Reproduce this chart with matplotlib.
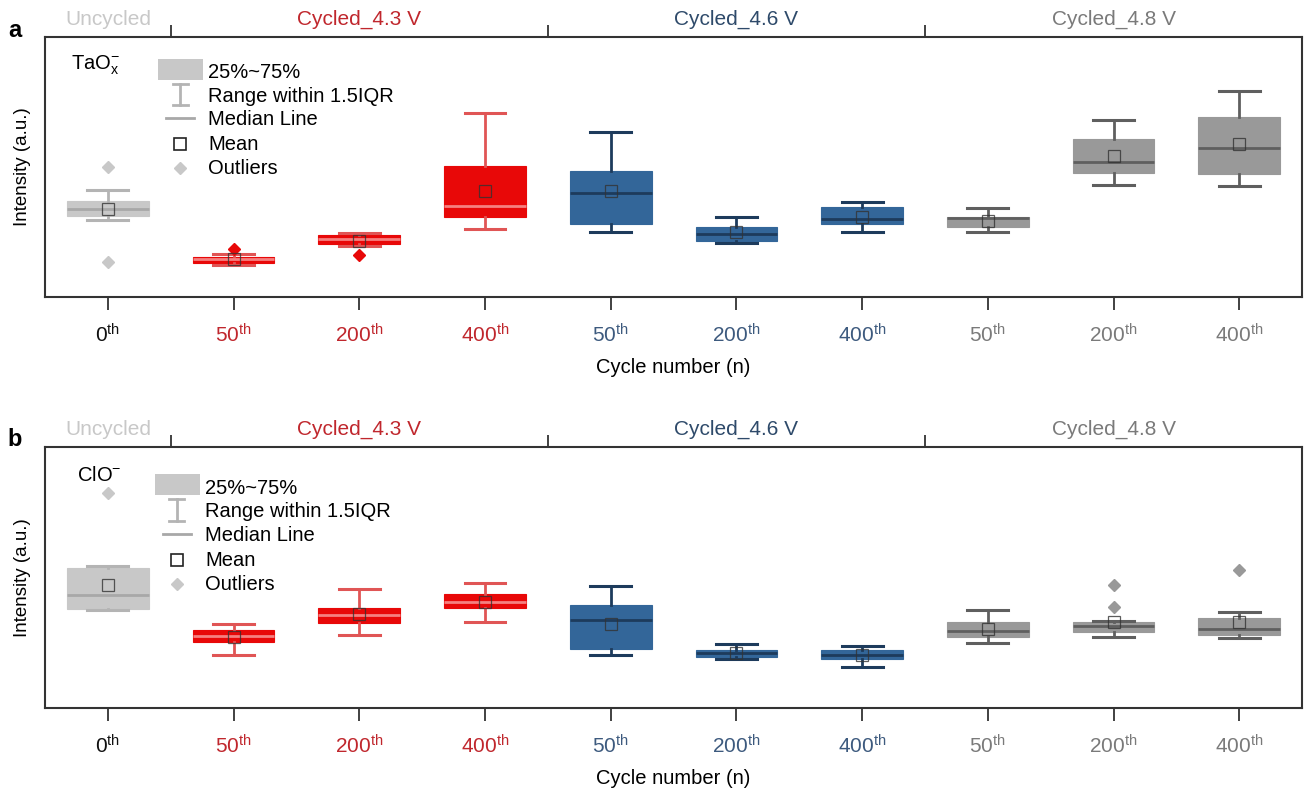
import matplotlib
matplotlib.use("Agg")
import matplotlib.pyplot as plt
from matplotlib.patches import Rectangle

plt.rcParams['font.family'] = ['Liberation Sans', 'DejaVu Sans']
plt.rcParams['mathtext.fontset'] = 'custom'
plt.rcParams['mathtext.rm'] = 'Liberation Sans'
plt.rcParams['mathtext.it'] = 'Liberation Sans:italic'

######################################################
# data (box statistics, arbitrary intensity units)
tick_labels = ['0', '50', '200', '400', '50', '200', '400', '50', '200', '400']
groups      = ['Uncycled', 'Cycled_4.3 V', 'Cycled_4.6 V', 'Cycled_4.8 V']
group_pos   = [0, 2, 5, 8]
group_edges = [0.5, 3.5, 6.5]

# panel a : TaOx-
a_whislo = [29.6, 12.3, 19.6, 26.2, 25.0, 20.8, 25.0, 25.0, 43.1, 42.7]
a_q1     = [31.2, 13.1, 20.4, 30.8, 28.1, 21.5, 28.1, 26.9, 47.7, 47.3]
a_med    = [33.8, 14.6, 22.3, 35.0, 40.0, 24.2, 30.0, 30.4, 51.9, 57.3]
a_q3     = [36.9, 15.4, 23.8, 50.4, 48.5, 26.9, 34.6, 30.8, 60.8, 69.2]
a_whishi = [41.2, 16.5, 24.6, 70.8, 63.5, 30.8, 36.5, 34.2, 68.1, 79.2]
a_mean   = [33.8, 14.6, 21.5, 40.8, 40.8, 25.0, 30.8, 29.2, 54.2, 58.8]
a_fliers = [[50.0, 13.5], [18.5], [16.2], [], [], [], [], [], [], []]

# panel b : ClO-
b_whislo = [37.5, 20.3, 28.0, 33.0, 20.3, 18.8, 15.7, 24.9, 27.2, 26.8]
b_q1     = [37.9, 25.3, 32.6, 38.3, 22.6, 19.5, 18.8, 27.2, 29.1, 28.0]
b_med    = [43.3, 27.6, 35.6, 40.6, 33.7, 21.1, 20.3, 29.5, 31.4, 30.3]
b_q3     = [53.6, 29.9, 38.3, 43.7, 39.5, 22.2, 22.2, 33.0, 33.0, 34.5]
b_whishi = [54.4, 32.2, 45.6, 47.9, 46.7, 24.5, 23.8, 37.5, 33.3, 36.8]
b_mean   = [47.1, 27.2, 36.0, 40.6, 32.2, 21.1, 20.3, 30.3, 33.0, 33.0]
b_fliers = [[82.4], [], [], [], [], [], [], [], [38.7, 47.1], [52.9]]

######################################################
# styles
box_col  = ['#c8c8c8'] + ['#e80808'] * 3 + ['#336699'] * 3 + ['#999999'] * 3
med_col  = ['#a8a8a8'] + ['#f58080'] * 3 + ['#1d3b5c'] * 3 + ['#5f5f5f'] * 3
whk_col  = ['#b4b4b4'] + ['#e05555'] * 3 + ['#1d3b5c'] * 3 + ['#5f5f5f'] * 3
tick_col = ['#111111'] + ['#c0272d'] * 3 + ['#3d5a7e'] * 3 + ['#7a7a7a'] * 3
grp_col  = ['#c8c8c8', '#c0272d', '#2e4a6a', '#7a7a7a']
FS = 14.5


def panel(ax, whislo, q1, med, q3, whishi, mean, fliers, ion, ion_x, key_dy):
    stats = []
    for i in range(len(med)):
        stats.append(dict(whislo=whislo[i], q1=q1[i], med=med[i], q3=q3[i],
                          whishi=whishi[i], mean=mean[i], fliers=fliers[i]))
    bp = ax.bxp(stats, positions=range(len(stats)), widths=0.65, patch_artist=True,
                showmeans=True, showfliers=True)
    for i in range(len(stats)):
        bp['boxes'][i].set(facecolor=box_col[i], edgecolor=box_col[i], linewidth=0.8)
        bp['medians'][i].set(color=med_col[i], linewidth=2)
        for k in (2 * i, 2 * i + 1):
            bp['whiskers'][k].set(color=whk_col[i], linewidth=2)
            bp['caps'][k].set(color=whk_col[i], linewidth=2.2)
        bp['fliers'][i].set(marker='D', markersize=6.5, markerfacecolor=box_col[i],
                            markeredgecolor=box_col[i])
        bp['means'][i].set(marker='s', markersize=8, markerfacecolor='none',
                           markeredgecolor='#333333', markeredgewidth=0.9, alpha=0.8)

    ax.set_xlim(-0.5, 9.5)
    ax.set_ylim(0, 100)
    ax.set_yticks([])
    ax.set_xticks(range(10))
    ax.set_xticklabels([t + r'$^{\mathrm{th}}$' for t in tick_labels], fontsize=15)
    for lbl, c in zip(ax.get_xticklabels(), tick_col):
        lbl.set_color(c)
    ax.tick_params(axis='x', direction='out', length=9, width=1.3, color='#333333', pad=10)
    for s in ax.spines.values():
        s.set_linewidth(1.5)
        s.set_color('#333333')
    ax.set_xlabel('Cycle number (n)', fontsize=FS, labelpad=8)
    ax.set_ylabel('Intensity (a.u.)', fontsize=13.5, labelpad=10)

    # group labels on top
    top = ax.secondary_xaxis('top')
    top.set_xticks(group_pos)
    top.set_xticklabels(groups, fontsize=15)
    for lbl, c in zip(top.get_xticklabels(), grp_col):
        lbl.set_color(c)
    top.set_xticks(group_edges, minor=True)
    top.tick_params(axis='x', which='major', length=0, pad=6)
    top.tick_params(axis='x', which='minor', length=9, width=1.3, color='#333333')
    top.spines['top'].set_visible(False)

    # ion name
    ax.text(ion_x, 0.89, ion, transform=ax.transAxes, fontsize=FS, va='center', ha='left')

    # key
    tr = ax.transAxes
    x0 = 0.0899 - 0.0025 * (key_dy != 0)
    xc = x0 + 0.0175
    tx = x0 + 0.040
    d = key_dy
    ax.add_patch(Rectangle((x0, 0.835 + d), 0.036, 0.080, transform=tr,
                           facecolor='#c8c8c8', edgecolor='none'))
    ax.text(tx, 0.862 + d, '25%~75%', transform=tr, fontsize=FS, va='center')
    ax.plot([xc, xc], [0.738 + d, 0.819 + d], transform=tr, color='#b4b4b4', lw=2)
    ax.plot([xc - 0.006, xc + 0.006], [0.819 + d] * 2, transform=tr, color='#b4b4b4', lw=2)
    ax.plot([xc - 0.006, xc + 0.006], [0.738 + d] * 2, transform=tr, color='#b4b4b4', lw=2)
    ax.text(tx, 0.772 + d, 'Range within 1.5IQR', transform=tr, fontsize=FS, va='center')
    ax.plot([xc - 0.011, xc + 0.011], [0.688 + d] * 2, transform=tr, color='#a8a8a8', lw=2)
    ax.text(tx, 0.682 + d, 'Median Line', transform=tr, fontsize=FS, va='center')
    ax.plot([xc], [0.588 + d], transform=tr, marker='s', ms=9, mfc='none',
            mec='#222222', mew=1.2)
    ax.text(tx, 0.585 + d, 'Mean', transform=tr, fontsize=FS, va='center')
    ax.plot([xc], [0.496 + d], transform=tr, marker='D', ms=6.5, mfc='#c8c8c8',
            mec='#c8c8c8')
    ax.text(tx, 0.493 + d, 'Outliers', transform=tr, fontsize=FS, va='center')


fig = plt.figure(figsize=(13.06, 7.91), dpi=100, facecolor='w')
axa = fig.add_axes([0.0345, 0.6245, 0.9625, 0.3287])
axb = fig.add_axes([0.0345, 0.1049, 0.9625, 0.3300])

panel(axa, a_whislo, a_q1, a_med, a_q3, a_whishi, a_mean, a_fliers,
      r'TaO$_{\mathrm{x}}^{\mathrm{-}}$', 0.0207, 0.0)
panel(axb, b_whislo, b_q1, b_med, b_q3, b_whishi, b_mean, b_fliers,
      r'ClO$^{\mathrm{-}}$', 0.0255, -0.02)

fig.text(0.006, 0.962, 'a', fontsize=17, fontweight='bold', va='center')
fig.text(0.006, 0.445, 'b', fontsize=17, fontweight='bold', va='center')

plt.savefig('out.png', dpi=100, facecolor='w')
plt.close(fig)
